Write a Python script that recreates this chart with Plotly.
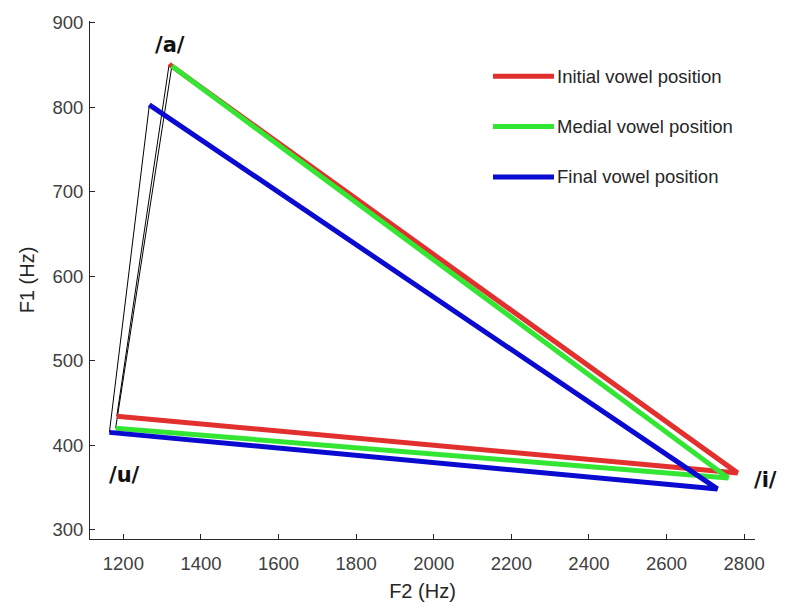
import plotly.graph_objects as go

# Mean formant values (Hz) for the corner vowels, by position in the word
positions = ["Initial vowel position", "Medial vowel position", "Final vowel position"]
colors = ["#e2302f", "#33e633", "#0a0ad0"]

f2_a = [1318, 1325, 1267]
f1_a = [851, 849, 803]
f2_i = [2783, 2759, 2731]
f1_i = [367, 361, 348]
f2_u = [1183, 1180, 1164]
f1_u = [434, 420, 415]

# Vowel labels placed next to the triangle corners
vowel_labels = ["/a/", "/u/", "/i/"]
label_f2 = [1320, 1202, 2822]
label_f1 = [874, 365, 359]
label_anchor = ["center", "center", "left"]

x_ticks = [1200, 1400, 1600, 1800, 2000, 2200, 2400, 2600, 2800]
y_ticks = [300, 400, 500, 600, 700, 800, 900]

fig = go.Figure()

# thin closing edges /u/ -> /a/
for k in range(len(positions)):
    fig.add_trace(go.Scatter(
        x=[f2_u[k], f2_a[k]], y=[f1_u[k], f1_a[k]],
        mode="lines", line=dict(color="black", width=1),
        showlegend=False, hoverinfo="skip"))

# thick edges /a/ -> /i/ -> /u/
for k, name in enumerate(positions):
    fig.add_trace(go.Scatter(
        x=[f2_a[k], f2_i[k], f2_u[k]], y=[f1_a[k], f1_i[k], f1_u[k]],
        mode="lines", name=name,
        line=dict(color=colors[k], width=5),
        showlegend=False))

for lab, xv, yv, anc in zip(vowel_labels, label_f2, label_f1, label_anchor):
    fig.add_annotation(x=xv, y=yv, text=f"<b>{lab}</b>", showarrow=False,
                       font=dict(family="DejaVu Sans", size=21, color="#111111"),
                       xanchor=anc, yanchor="middle", borderpad=0)

# legend drawn as line samples with labels
W, H, ML, MT, MB = 787, 610, 90, 18, 67
plot_w = 665
plot_h = H - MT - MB
leg_x0, leg_x1, leg_tx = 493, 554, 555
leg_y = [74, 125, 176]
for k, name in enumerate(positions):
    py = (H - MB - leg_y[k]) / plot_h
    fig.add_shape(type="line", xref="paper", yref="paper",
                  x0=(leg_x0 - ML) / plot_w, x1=(leg_x1 - ML) / plot_w,
                  y0=py, y1=py, line=dict(color=colors[k], width=5))
    fig.add_annotation(xref="paper", yref="paper", x=(leg_tx - ML) / plot_w, y=py,
                       text=name, showarrow=False, xanchor="left", yanchor="middle",
                       font=dict(family="Liberation Sans", size=18.5, color="#262626"))

axis_common = dict(
    showline=True, linecolor="#262626", linewidth=1,
    ticks="inside", ticklen=5, tickcolor="#262626",
    showgrid=False, zeroline=False, mirror=False,
    tickfont=dict(family="Liberation Sans", size=18.5, color="#404040"),
)

fig.update_xaxes(range=[1114, 2828], tickvals=x_ticks, ticklabelstandoff=8,
                 title=dict(text="F2 (Hz)", font=dict(family="Liberation Sans", size=20, color="#262626"), standoff=10),
                 **axis_common)
fig.update_yaxes(range=[288.7, 902.3], tickvals=y_ticks, ticklabelstandoff=2,
                 title=dict(text="F1 (Hz)", font=dict(family="Liberation Sans", size=20, color="#262626"), standoff=12),
                 **axis_common)

fig.update_layout(
    width=W, height=H,
    margin=dict(l=ML, r=W - ML - plot_w, t=MT, b=MB),
    plot_bgcolor="white", paper_bgcolor="white",
    showlegend=False,
)

fig.write_html("out.html")
